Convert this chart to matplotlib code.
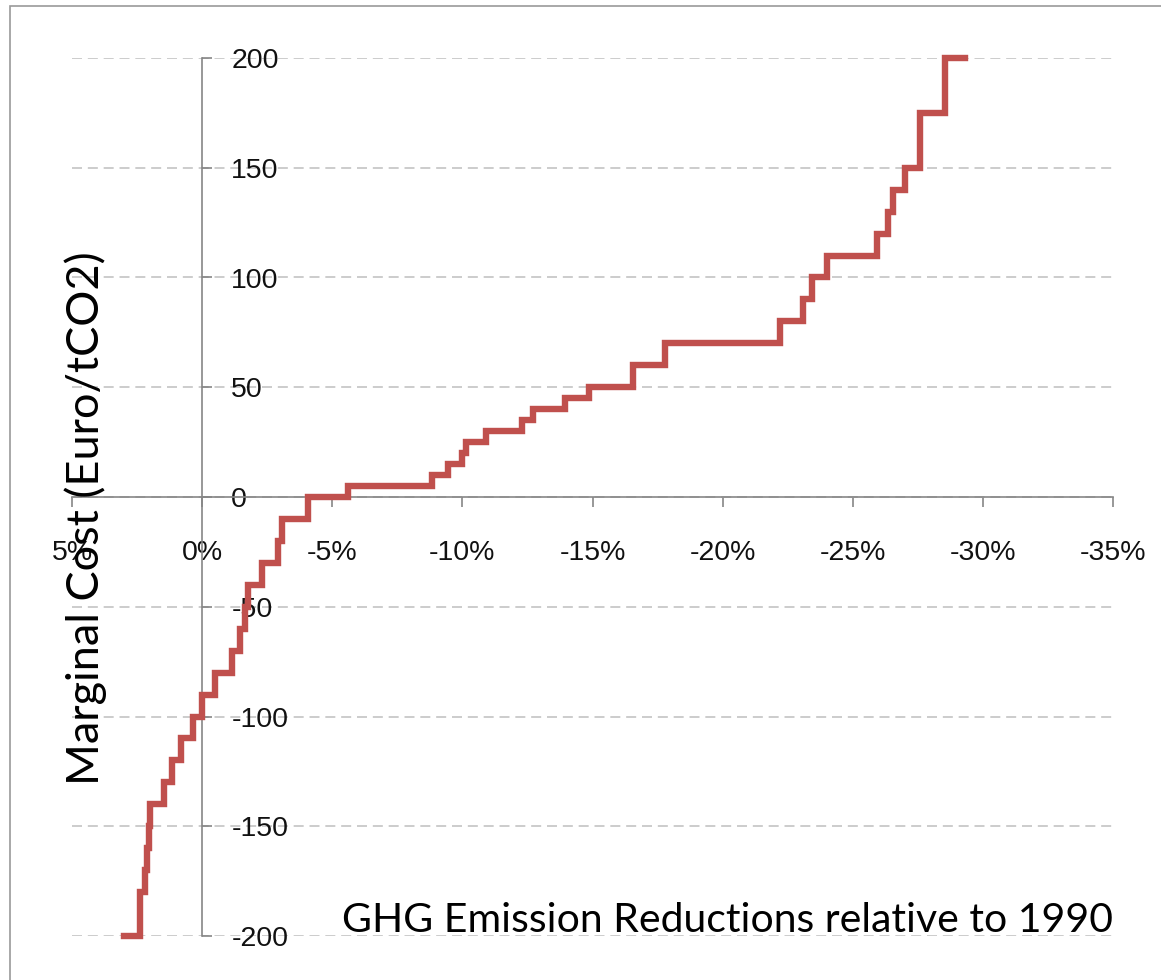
import matplotlib
matplotlib.use("Agg")
import matplotlib.pyplot as plt
from matplotlib.patches import Rectangle

# step curve: reduction (% vs 1990) where each cost level starts
reduction_pct = [3.0, 2.4, 2.2, 2.1, 2.05, 2.0, 1.45, 1.15, 0.8, 0.35, 0.0,
                 -0.5, -1.15, -1.45, -1.65, -1.75, -2.3, -2.9, -3.05, -4.05,
                 -5.6, -8.85, -9.45, -10.0, -10.15, -10.9, -12.3, -12.7, -13.95,
                 -14.85, -16.55, -17.8, -22.2, -23.1, -23.45, -24.0, -25.95,
                 -26.35, -26.55, -27.0, -27.6, -28.55, -29.3]
marginal_cost = [-200, -180, -170, -160, -150, -140, -130, -120, -110, -100, -90,
                 -80, -70, -60, -50, -40, -30, -20, -10, 0,
                 5, 10, 15, 20, 25, 30, 35, 40, 45,
                 50, 60, 70, 80, 90, 100, 110, 120,
                 130, 140, 150, 175, 200, 200]

x_ticks = [5, 0, -5, -10, -15, -20, -25, -30, -35]
y_ticks = [-200, -150, -100, -50, 0, 50, 100, 150, 200]

LINE_RED = '#C0504D'
AXIS_GREY = '#868686'
GRID_GREY = '#C4C4C4'

W, H = 1161, 980
fig = plt.figure(figsize=(W / 100, H / 100), dpi=100)
fig.patch.set_facecolor('white')

# chart frame (only left/top edges are inside the picture)
fig.add_artist(Rectangle((10 / W, -0.1), 1.2, 1.1 - 6 / H, transform=fig.transFigure,
                         fill=False, edgecolor='#9A9A9A', linewidth=1.2))

ax = fig.add_axes([72 / W, 44 / H, 1041 / W, 878 / H])
ax.set_xlim(5, -35)
ax.set_ylim(-200, 200)

ax.step(reduction_pct, marginal_cost, where='post', color=LINE_RED,
        linewidth=4.6, clip_on=False, zorder=5, solid_joinstyle='miter')

# horizontal dashed gridlines
ax.set_yticks(y_ticks)
ax.yaxis.grid(True, color=GRID_GREY, linewidth=1.2, linestyle=(0, (6, 3.5)))
ax.set_axisbelow(True)

# axes cross at the origin, Excel style
for side in ['top', 'left']:
    ax.spines[side].set_visible(False)
ax.spines['right'].set_position(('data', 0))
ax.spines['bottom'].set_position(('data', 0))
for side in ['right', 'bottom']:
    ax.spines[side].set_color(AXIS_GREY)
    ax.spines[side].set_linewidth(1.2)

ax.yaxis.set_ticks_position('right')
ax.yaxis.set_label_position('right')
ax.tick_params(axis='y', direction='out', length=7, width=1.2, color=AXIS_GREY,
               pad=14, labelsize=20.5, labelcolor='#111111')
ax.set_yticklabels([str(v) for v in y_ticks], fontfamily='Liberation Sans')

ax.set_xticks(x_ticks)
ax.set_xticklabels([f'{v}%' for v in x_ticks], fontfamily='Liberation Sans')
ax.tick_params(axis='x', direction='out', length=7, width=1.2, color=AXIS_GREY,
               pad=24, labelsize=20.5, labelcolor='#111111')

ax.text(1.0, 0.004, 'GHG Emission Reductions relative to 1990', transform=ax.transAxes,
        ha='right', va='baseline', fontsize=29.5, family='Lato', color='black')

fig.text(86 / W, 1 - 518 / H, 'Marginal Cost (Euro/tCO2)', rotation=90,
         ha='center', va='center', fontsize=32.5, family='Lato', color='black')

fig.savefig('out.png', dpi=100, facecolor='white')
